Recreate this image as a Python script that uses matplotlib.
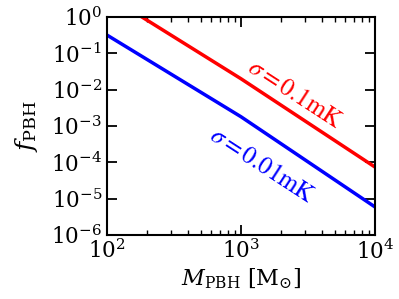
import numpy as np
import matplotlib
matplotlib.use("Agg")
import matplotlib.pyplot as plt

plt.rcParams['font.family'] = 'DejaVu Serif'
plt.rcParams['mathtext.fontset'] = 'dejavuserif'

# data
M_pbh = [1e2, 1e3, 1e4]
f_01mK = [4.0, 2.0e-2, 7.4e-5]     # sigma = 0.1 mK
f_001mK = [0.32, 1.8e-3, 5.9e-6]   # sigma = 0.01 mK

fig = plt.figure(figsize=(3.99, 2.99), dpi=100)
ax = fig.add_axes([0.268, 0.214, 0.672, 0.729])

ax.plot(M_pbh, f_01mK, color='red', lw=2.5)
ax.plot(M_pbh, f_001mK, color='blue', lw=2.5)

ax.set_xscale('log')
ax.set_yscale('log')
ax.set_xlim(1e2, 1e4)
ax.set_ylim(1e-6, 1e0)
ax.set_yticks([1e-6, 1e-5, 1e-4, 1e-3, 1e-2, 1e-1, 1e0])

ax.tick_params(which='both', direction='in', top=True, right=True, labelsize=15.5)
ax.tick_params(which='major', length=7, width=1.3)
ax.tick_params(which='minor', length=3.5, width=1.0)
for s in ax.spines.values():
    s.set_linewidth(1.5)

ax.set_xlabel(r'$M_{\rm PBH}\ [{\rm M}_{\odot}]$', fontsize=16, labelpad=2)
ax.set_ylabel(r'$f_{\rm PBH}$', fontsize=18, labelpad=8)

ax.text(0.70, 0.645, r'$\sigma=0.1{\rm mK}$', color='red', fontsize=18,
        rotation=-33, ha='center', va='center', transform=ax.transAxes,
        math_fontfamily='stix')
ax.text(0.58, 0.32, r'$\sigma=0.01{\rm mK}$', color='blue', fontsize=18,
        rotation=-33, ha='center', va='center', transform=ax.transAxes,
        math_fontfamily='stix')

fig.savefig('out.png', dpi=100)
